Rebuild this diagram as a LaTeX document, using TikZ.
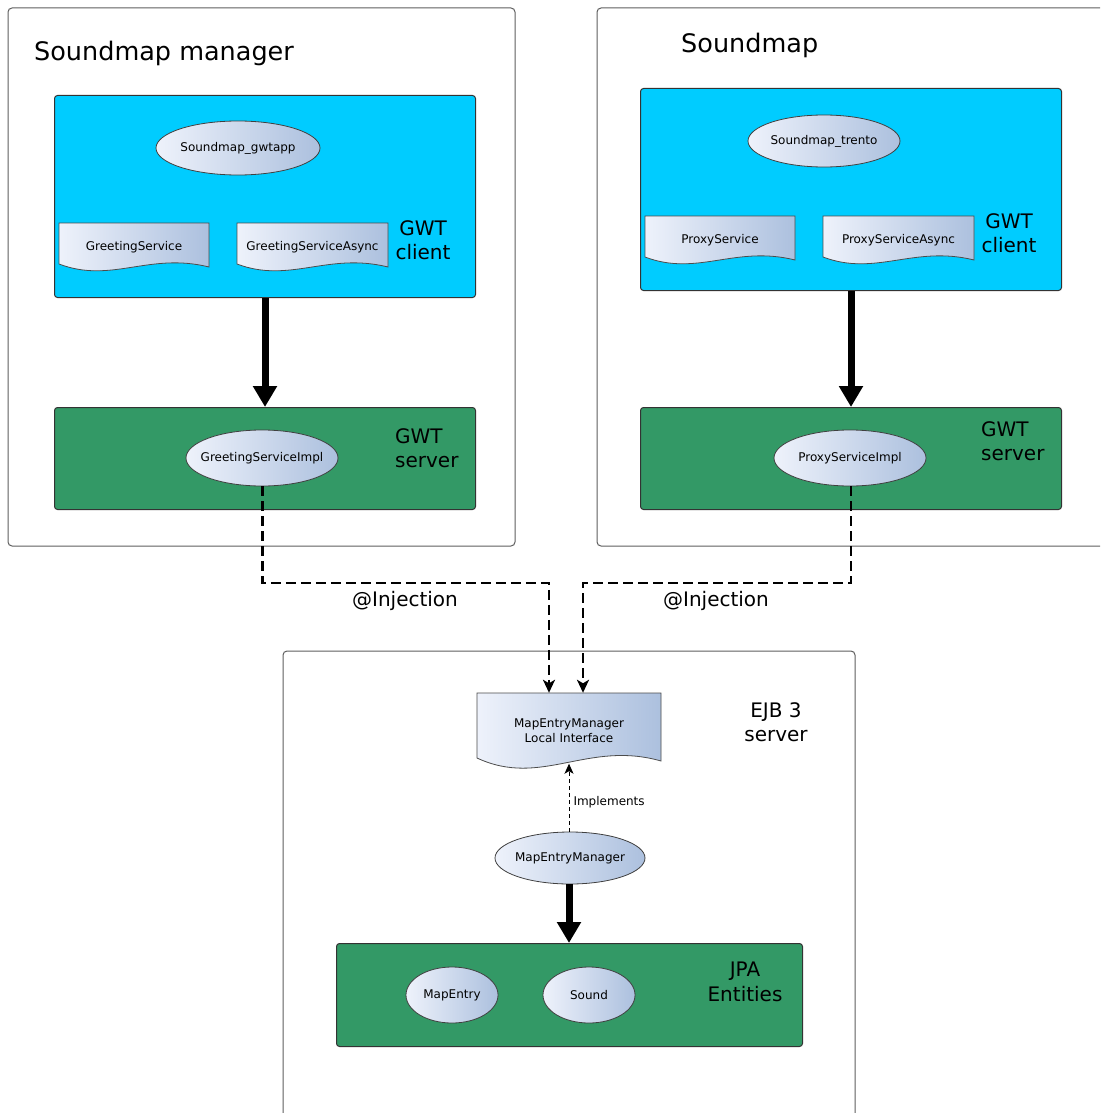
\documentclass[tikz,border=0pt]{standalone}
\usepackage{fontspec}
\setmainfont{DejaVu Sans}
\usetikzlibrary{shapes.geometric,arrows.meta,calc}

\definecolor{gwtblue}{RGB}{0,204,255}
\definecolor{srvgreen}{RGB}{51,153,102}
\definecolor{beanlight}{RGB}{238,242,251}
\definecolor{beandark}{RGB}{172,192,222}
\definecolor{framegray}{RGB}{95,95,95}

\tikzset{
  outerbox/.style={draw=framegray, line width=1pt, rounded corners=4pt, fill=white},
  clientbox/.style={draw=black!80, line width=1pt, rounded corners=3pt, fill=gwtblue,
    anchor=north west, inner sep=0pt},
  serverbox/.style={draw=black!80, line width=1pt, rounded corners=3pt, fill=srvgreen,
    anchor=north west, inner sep=0pt},
  bean/.style={ellipse, draw=black!75, line width=0.8pt, left color=beanlight,
    right color=beandark, inner sep=0pt, font=\fontsize{12}{14}\selectfont},
  docfill/.style={draw=black!70, line width=0.8pt, left color=beanlight, right color=beandark},
  smalltext/.style={font=\fontsize{12}{15}\selectfont, align=center},
  tag/.style={font=\fontsize{20}{24.5}\selectfont},
  title/.style={font=\fontsize{25.5}{30}\selectfont, anchor=base west, inner sep=0pt},
  flow/.style={line width=7pt, -{Triangle[length=21pt 0, width=23pt 0]}},
  inj/.style={line width=2.4pt, dash pattern=on 10pt off 5pt,
    -{Stealth[length=13pt 0, width=12pt 0, inset=3.5pt 0]}},
  impl/.style={line width=1pt, dash pattern=on 4pt off 3pt,
    -{Stealth[length=10pt 0, width=9pt 0, inset=2.5pt 0]}},
}

% Label set in zero width, so an ellipse keeps the size it is given
\newcommand\beantext[1]{\makebox[0pt]{#1}}

% Document shape with a wavy lower edge: name, x0, y0, x1, yb, wave amplitude, text
\newcommand\docnode[7]{%
  \path[docfill] (#2,#3) -- (#4,#3) -- (#4,{#5+3})
    .. controls ({#2+0.6*(#4-#2)},{#5-1.2*#6}) and ({#2+0.35*(#4-#2)},{#5+2*#6}) .. (#2,#5)
    -- cycle;
  \node[smalltext, inner sep=0pt, minimum width={(#4-#2)*1pt},
        minimum height={(#5+0.7*#6-#3)*1pt}]
    (#1) at ({(#2+#4)/2},{(#3+#5+0.7*#6)/2}) {#7};%
}

\begin{document}
\begin{tikzpicture}[x=1pt, y=-1pt]
  \clip (0,0) rectangle (1100,1113);
  \fill[white] (0,0) rectangle (1100,1113);

  % ---------- Soundmap manager ----------
  \draw[outerbox] (8,8) rectangle (515,546);
  \node[title] (mgrtitle) at (34,61) {Soundmap manager};

  \node[clientbox, minimum width=421pt, minimum height=202pt] (lclient) at (54,95) {};
  \node[bean, minimum width=164pt, minimum height=54pt] (gwtapp) at (238,148) {\beantext{Soundmap\_gwtapp}};
  \docnode{gs}{59}{223}{209}{264}{10}{GreetingService}
  \docnode{gsa}{237}{223}{388}{264}{10}{GreetingServiceAsync}
  \node[tag, align=center] (lclienttag) at (423,240) {GWT\\client};

  \node[serverbox, minimum width=421pt, minimum height=102pt] (lserver) at (54,407) {};
  \node[bean, minimum width=152pt, minimum height=56pt] (gsi) at (262,458) {\beantext{GreetingServiceImpl}};
  \node[tag, align=left, anchor=west, inner sep=0pt] (lservertag) at (395,448) {GWT\\server};

  \draw[flow] (lclient.south) -- (lserver.north);

  % ---------- Soundmap ----------
  \draw[outerbox] (597,8) rectangle (1120,546);
  \node[title] (maptitle) at (681,53) {Soundmap};

  \node[clientbox, minimum width=421pt, minimum height=202pt] (rclient) at (640,88) {};
  \node[bean, minimum width=152pt, minimum height=52pt] (trento) at (824,141) {\beantext{Soundmap\_trento}};
  \docnode{ps}{645}{216}{795}{257}{10}{ProxyService}
  \docnode{psa}{823}{216}{974}{257}{10}{ProxyServiceAsync}
  \node[tag, align=center] (rclienttag) at (1009,233) {GWT\\client};

  \node[serverbox, minimum width=421pt, minimum height=102pt] (rserver) at (640,407) {};
  \node[bean, minimum width=152pt, minimum height=56pt] (psi) at (850,458) {\beantext{ProxyServiceImpl}};
  \node[tag, align=left, anchor=west, inner sep=0pt] (rservertag) at (981,441) {GWT\\server};

  \draw[flow] (rclient.south) -- (rserver.north);

  % ---------- EJB 3 server ----------
  \draw[outerbox] (283,651) rectangle (855,1130);
  \docnode{lif}{477}{693}{661}{758}{15}{MapEntryManager\\Local Interface}
  \node[tag, align=center] (ejbtag) at (776,722) {EJB 3\\server};

  \node[bean, minimum width=150pt, minimum height=52pt] (mem) at (570,858) {\beantext{MapEntryManager}};
  \draw[impl] (mem.north -| 569,0) -- ([yshift=5pt]lif.south -| 569,0)
    node[pos=0.43, right, smalltext, inner sep=4pt] (impltag) {Implements};

  \node[serverbox, minimum width=466pt, minimum height=103pt] (jpa) at (336,943) {};
  \node[bean, minimum width=92pt, minimum height=56pt] (mapentry) at (452,995) {\beantext{MapEntry}};
  \node[bean, minimum width=92pt, minimum height=56pt] (sound) at (589,995) {\beantext{Sound}};
  \node[tag, align=center] (jpatag) at (745,982) {JPA\\Entities};

  \draw[flow] (mem.south -| 569,0) -- (jpa.north -| 569,0);

  % ---------- injections ----------
  \draw[inj] (gsi.south -| 262.5,0) -- (262.5,583) -| ([xshift=-20pt]lif.north);
  \draw[inj] (psi.south -| 851,0) -- (851,583) -| ([xshift=14pt]lif.north);
  \node[tag] (injl) at (405,601) {@Injection};
  \node[tag] (injr) at (716,601) {@Injection};
\end{tikzpicture}
\end{document}
